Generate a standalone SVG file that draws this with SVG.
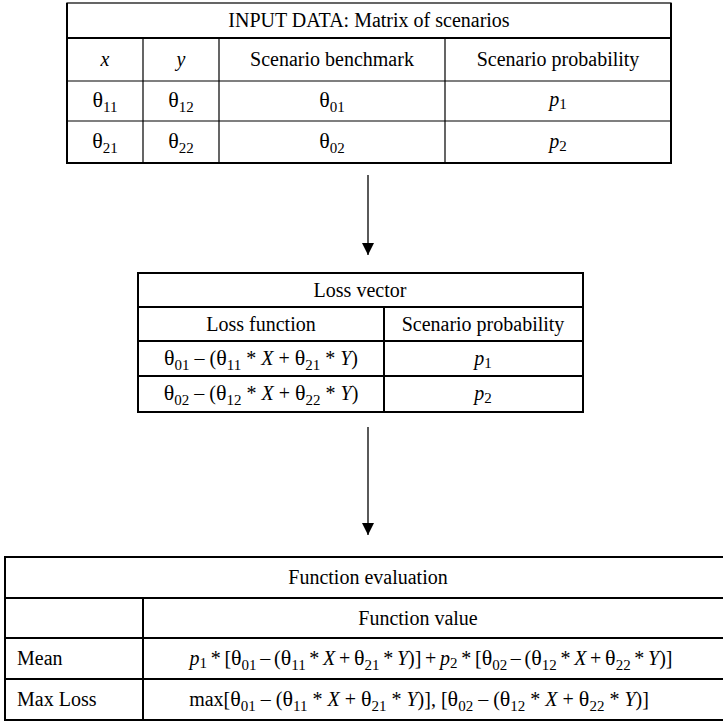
<svg xmlns="http://www.w3.org/2000/svg" width="723" height="722" viewBox="0 0 723 722">
<style>
.t{font-family:"Liberation Serif","Times New Roman",serif;font-size:20px;fill:#000}
.i{font-style:italic}
.th{font-size:22px}
.s{font-size:15px;font-style:normal}
.thin{stroke:#000;stroke-width:1.2;fill:none}
.thick{stroke:#000;stroke-width:2;fill:none}
.conn{stroke:#000;stroke-width:1.3;fill:none}
</style>
<defs>
<marker id="arr" viewBox="0 0 12 12" refX="12" refY="6" markerWidth="12" markerHeight="12" markerUnits="userSpaceOnUse" orient="auto">
<path d="M0,0 L12,6 L0,12 Z" fill="#000"/>
</marker>
</defs>
<g id="input-table">
<rect class="thin" x="67" y="3" width="604" height="160"/>
<path class="thick" d="M67,3 V163 H671 V3"/>
<path class="thick" d="M67,38 H671"/>
<path class="thin" d="M67,81 H671 M67,121 H671 M143,38 V163 M219,38 V163 M445,38 V163"/>
<text class="t" x="369" y="27" text-anchor="middle">INPUT DATA: Matrix of scenarios</text>
<text class="t i" x="105" y="66" text-anchor="middle">x</text>
<text class="t i" x="181" y="66" text-anchor="middle">y</text>
<text class="t" x="332" y="66" text-anchor="middle">Scenario benchmark</text>
<text class="t" x="558" y="66" text-anchor="middle">Scenario probability</text>
<text class="t" x="105" y="107" text-anchor="middle"><tspan class="th">θ</tspan><tspan class="s" dy="5">11</tspan></text>
<text class="t" x="181" y="107" text-anchor="middle"><tspan class="th">θ</tspan><tspan class="s" dy="5">12</tspan></text>
<text class="t" x="332" y="107" text-anchor="middle"><tspan class="th">θ</tspan><tspan class="s" dy="5">01</tspan></text>
<text class="t" x="558" y="106" text-anchor="middle"><tspan class="i">p</tspan><tspan class="s" dy="3">1</tspan></text>
<text class="t" x="105" y="148" text-anchor="middle"><tspan class="th">θ</tspan><tspan class="s" dy="5">21</tspan></text>
<text class="t" x="181" y="148" text-anchor="middle"><tspan class="th">θ</tspan><tspan class="s" dy="5">22</tspan></text>
<text class="t" x="332" y="148" text-anchor="middle"><tspan class="th">θ</tspan><tspan class="s" dy="5">02</tspan></text>
<text class="t" x="558" y="148" text-anchor="middle"><tspan class="i">p</tspan><tspan class="s" dy="3">2</tspan></text>
</g>
<g id="loss-table">
<rect class="thick" x="138" y="273" width="445" height="139"/>
<path class="thick" d="M138,307 H583 M138,341 H583 M138,376 H583 M384,307 V412"/>
<text class="t" x="360" y="297" text-anchor="middle">Loss vector</text>
<text class="t" x="261" y="331" text-anchor="middle">Loss function</text>
<text class="t" x="483" y="331" text-anchor="middle">Scenario probability</text>
<text class="t" x="261" y="365" text-anchor="middle"><tspan class="th">θ</tspan><tspan class="s" dy="5">01</tspan><tspan dy="-5"> – (</tspan><tspan class="th">θ</tspan><tspan class="s" dy="5">11</tspan><tspan dy="-5"> * </tspan><tspan class="i">X</tspan><tspan> + </tspan><tspan class="th">θ</tspan><tspan class="s" dy="5">21</tspan><tspan dy="-5"> * </tspan><tspan class="i">Y</tspan><tspan>)</tspan></text>
<text class="t" x="261" y="400" text-anchor="middle"><tspan class="th">θ</tspan><tspan class="s" dy="5">02</tspan><tspan dy="-5"> – (</tspan><tspan class="th">θ</tspan><tspan class="s" dy="5">12</tspan><tspan dy="-5"> * </tspan><tspan class="i">X</tspan><tspan> + </tspan><tspan class="th">θ</tspan><tspan class="s" dy="5">22</tspan><tspan dy="-5"> * </tspan><tspan class="i">Y</tspan><tspan>)</tspan></text>
<text class="t" x="483" y="365" text-anchor="middle"><tspan class="i">p</tspan><tspan class="s" dy="3">1</tspan></text>
<text class="t" x="483" y="400" text-anchor="middle"><tspan class="i">p</tspan><tspan class="s" dy="3">2</tspan></text>
</g>
<g id="evaluation-table">
<rect class="thick" x="5" y="557" width="730" height="163"/>
<path class="thick" d="M5,598 H735 M5,638 H735 M5,679 H735 M143,598 V720"/>
<text class="t" x="368" y="584" text-anchor="middle">Function evaluation</text>
<text class="t" x="418" y="625" text-anchor="middle">Function value</text>
<text class="t" x="17" y="665">Mean</text>
<text class="t" x="17" y="706">Max Loss</text>
<text class="t" x="431" y="665" text-anchor="middle" word-spacing="-1.3"><tspan class="i">p</tspan><tspan class="s" dy="3">1</tspan><tspan dy="-3"> * [</tspan><tspan class="th">θ</tspan><tspan class="s" dy="5">01</tspan><tspan dy="-5"> – (</tspan><tspan class="th">θ</tspan><tspan class="s" dy="5">11</tspan><tspan dy="-5"> * </tspan><tspan class="i">X</tspan><tspan> + </tspan><tspan class="th">θ</tspan><tspan class="s" dy="5">21</tspan><tspan dy="-5"> * </tspan><tspan class="i">Y</tspan><tspan>)] + </tspan><tspan class="i">p</tspan><tspan class="s" dy="3">2</tspan><tspan dy="-3"> * [</tspan><tspan class="th">θ</tspan><tspan class="s" dy="5">02</tspan><tspan dy="-5"> – (</tspan><tspan class="th">θ</tspan><tspan class="s" dy="5">12</tspan><tspan dy="-5"> * </tspan><tspan class="i">X</tspan><tspan> + </tspan><tspan class="th">θ</tspan><tspan class="s" dy="5">22</tspan><tspan dy="-5"> * </tspan><tspan class="i">Y</tspan><tspan>)]</tspan></text>
<text class="t" x="419" y="706" text-anchor="middle">max[<tspan class="th">θ</tspan><tspan class="s" dy="5">01</tspan><tspan dy="-5"> – (</tspan><tspan class="th">θ</tspan><tspan class="s" dy="5">11</tspan><tspan dy="-5"> * </tspan><tspan class="i">X</tspan><tspan> + </tspan><tspan class="th">θ</tspan><tspan class="s" dy="5">21</tspan><tspan dy="-5"> * </tspan><tspan class="i">Y</tspan><tspan>)], [</tspan><tspan class="th">θ</tspan><tspan class="s" dy="5">02</tspan><tspan dy="-5"> – (</tspan><tspan class="th">θ</tspan><tspan class="s" dy="5">12</tspan><tspan dy="-5"> * </tspan><tspan class="i">X</tspan><tspan> + </tspan><tspan class="th">θ</tspan><tspan class="s" dy="5">22</tspan><tspan dy="-5"> * </tspan><tspan class="i">Y</tspan><tspan>)]</tspan></text>
</g>
<g id="connectors">
<line class="conn" x1="368" y1="175" x2="368" y2="255" marker-end="url(#arr)"/>
<line class="conn" x1="368" y1="427" x2="368" y2="535" marker-end="url(#arr)"/>
</g>
</svg>
